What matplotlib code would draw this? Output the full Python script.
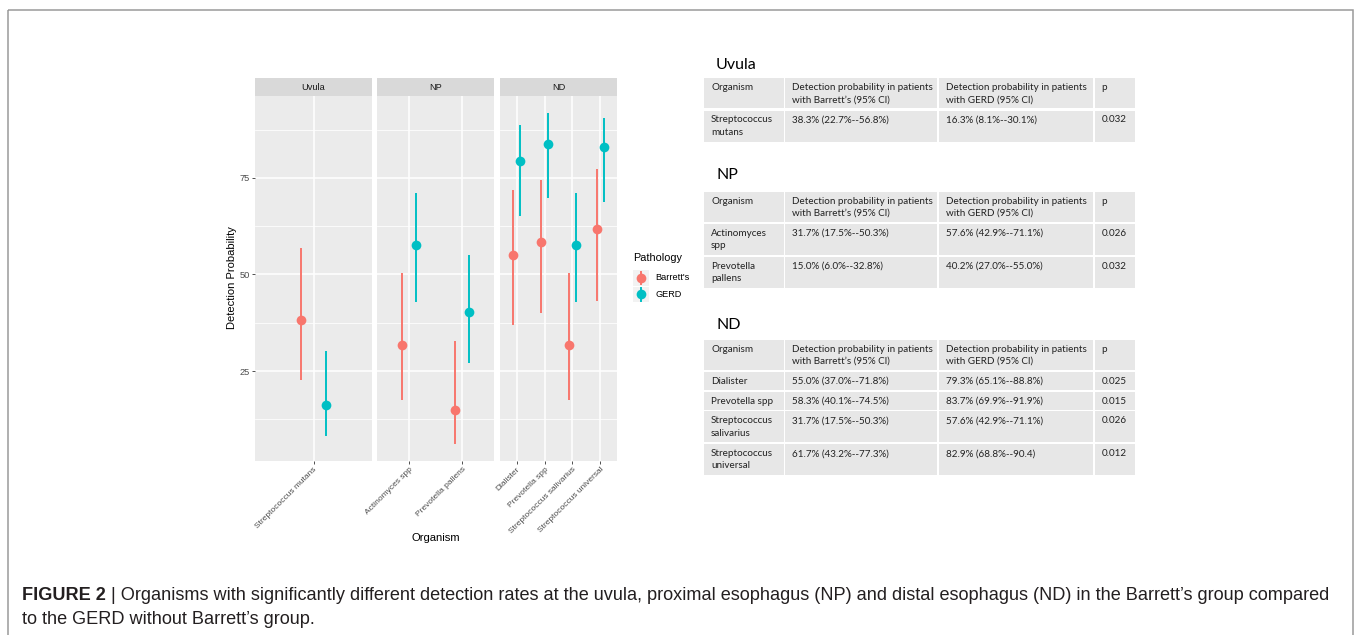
import matplotlib
matplotlib.use('Agg')
import matplotlib.pyplot as plt
from matplotlib.patches import Rectangle

W, H = 1356, 635

# data (tables give the exact values)
sites = ['Uvula', 'NP', 'ND']
organisms = ['Streptococcus mutans', 'Actinomyces spp', 'Prevotella pallens',
             'Dialister', 'Prevotella spp', 'Streptococcus salivarius',
             'Streptococcus universal']
organism_site = ['Uvula', 'NP', 'NP', 'ND', 'ND', 'ND', 'ND']
table_names = ['Streptococcus\nmutans', 'Actinomyces\nspp', 'Prevotella\npallens',
               'Dialister', 'Prevotella spp', 'Streptococcus\nsalivarius',
               'Streptococcus\nuniversal']

barrett_est = [38.3, 31.7, 15.0, 55.0, 58.3, 31.7, 61.7]
barrett_lo = [22.7, 17.5, 6.0, 37.0, 40.1, 17.5, 43.2]
barrett_hi = [56.8, 50.3, 32.8, 71.8, 74.5, 50.3, 77.3]
gerd_est = [16.3, 57.6, 40.2, 79.3, 83.7, 57.6, 82.9]
gerd_lo = [8.1, 42.9, 27.0, 65.1, 69.9, 42.9, 68.8]
gerd_hi = [30.1, 71.1, 55.0, 88.8, 91.9, 71.1, 90.4]
p_values = ['0.032', '0.026', '0.032', '0.025', '0.015', '0.026', '0.012']

pathologies = ["Barrett's", 'GERD']
colors = ['#F8766D', '#00BFC4']

AX_FONT = ['Liberation Sans', 'DejaVu Sans']
TAB_FONT = ['Lato', 'DejaVu Sans']
CAP_FONT = ['Liberation Sans', 'DejaVu Sans']


def px_box(x0, y0, x1, y1):
    return [x0 / W, 1 - y1 / H, (x1 - x0) / W, (y1 - y0) / H]


def ci_text(est, lo, hi):
    return f'{est:.1f}% ({lo:.1f}%--{hi:.1f}%)'


fig = plt.figure(figsize=(W / 100, H / 100), dpi=100)
fig.patch.set_facecolor('white')

# overlay canvas in pixel coordinates for frame, legend, tables, caption
cv = fig.add_axes([0, 0, 1, 1])
cv.set_xlim(0, W)
cv.set_ylim(H, 0)
cv.axis('off')

cv.add_patch(Rectangle((8, 10), 1345, 640, fill=False, ec='#9A9A9A', lw=1.1))

# ---- faceted plot ----
panel_x = [(255, 372), (377, 494), (500, 617)]
strip_top, panel_top, panel_bottom = 78, 96, 461

all_lo = min(barrett_lo + gerd_lo)
all_hi = max(barrett_hi + gerd_hi)
pad = 0.05 * (all_hi - all_lo)
dodge = 0.125
pt_size = 7.0

for i, site in enumerate(sites):
    idx = [k for k, s in enumerate(organism_site) if s == site]
    x0, x1 = panel_x[i]
    ax = fig.add_axes(px_box(x0, panel_top, x1, panel_bottom))
    ax.set_facecolor('#EBEBEB')
    for sp in ax.spines.values():
        sp.set_visible(False)
    ax.set_ylim(all_lo - pad, all_hi + pad)
    ax.set_xlim(-0.6, len(idx) - 0.4)
    ax.set_yticks([25, 50, 75])
    ax.set_yticks([12.5, 37.5, 62.5, 87.5], minor=True)
    ax.set_xticks(range(len(idx)))
    ax.set_xticklabels([organisms[k] for k in idx], rotation=45, ha='right',
                       va='top', rotation_mode='anchor', fontsize=6,
                       color='#4D4D4D', family=AX_FONT)
    ax.set_axisbelow(True)
    ax.grid(which='major', color='white', lw=1.1)
    ax.grid(which='minor', axis='y', color='white', lw=0.55)
    ax.tick_params(which='minor', length=0)
    ax.tick_params(which='major', length=2.2, width=0.6, color='#333333', pad=1.5)
    if i == 0:
        for lab in ax.get_yticklabels():
            lab.set_fontsize(6.7)
            lab.set_color('#4D4D4D')
            lab.set_family(AX_FONT)
    else:
        ax.tick_params(axis='y', which='both', left=False, labelleft=False)

    for j, k in enumerate(idx):
        series = [(barrett_est[k], barrett_lo[k], barrett_hi[k]),
                  (gerd_est[k], gerd_lo[k], gerd_hi[k])]
        for (est, lo, hi), col, off in zip(series, colors, (-dodge, dodge)):
            ax.vlines(j + off, lo, hi, color=col, lw=1.4)
            ax.plot(j + off, est, 'o', color=col, ms=pt_size, mec='none')

    strip = fig.add_axes(px_box(x0, strip_top, x1, panel_top))
    strip.set_facecolor('#D9D9D9')
    strip.set_xticks([])
    strip.set_yticks([])
    for sp in strip.spines.values():
        sp.set_visible(False)
    strip.text(0.5, 0.5, site, ha='center', va='center', fontsize=6.7,
               color='#1A1A1A', family=AX_FONT, transform=strip.transAxes)

cv.text(232, 278, 'Detection Probability', rotation=90, ha='center', va='center',
        fontsize=8, family=AX_FONT)
cv.text(436, 538, 'Organism', ha='center', va='center', fontsize=8.1, family=AX_FONT)

# legend
cv.text(633, 258, 'Pathology', ha='left', va='center', fontsize=7.8, family=AX_FONT)
for n, (name, col) in enumerate(zip(pathologies, colors)):
    ky = 270 + n * 16.5
    cv.add_patch(Rectangle((633, ky), 16, 15.5, fc='#F2F2F2', ec='none'))
    cv.plot([641, 641], [ky + 1.5, ky + 14], color=col, lw=1.4)
    cv.plot(641, ky + 7.75, 'o', color=col, ms=pt_size, mec='none')
    cv.text(655, ky + 7.75, name, ha='left', va='center', fontsize=6.6, family=AX_FONT)

# ---- tables ----
col_edges = [(704, 783.5), (785, 937), (938.5, 1093), (1094.5, 1135)]
header = ['Organism', 'Detection probability in patients\nwith Barrett\u2019s (95% CI)',
          'Detection probability in patients\nwith GERD (95% CI)', 'p']
cell_bg = '#E7E7E7'

barrett_txt = [ci_text(e, l, h) for e, l, h in zip(barrett_est, barrett_lo, barrett_hi)]
gerd_txt = [ci_text(e, l, h) for e, l, h in zip(gerd_est, gerd_lo, gerd_hi)]
gerd_txt[-1] = gerd_txt[-1].replace('90.4%)', '90.4)')  # as printed in the source

table_pos = {'Uvula': (65, 78), 'NP': (175, 191.5), 'ND': (325, 339.5)}


def draw_row(y, h, cells):
    for (cx0, cx1), txt in zip(col_edges, cells):
        cv.add_patch(Rectangle((cx0, y), cx1 - cx0, h, fc=cell_bg, ec='none'))
        cv.text(cx0 + 7, y + 5, txt, ha='left', va='top', fontsize=7.1,
                family=TAB_FONT, color='#222222', linespacing=1.45)


for site in sites:
    title_y, y = table_pos[site]
    cv.text(716, title_y, site, ha='left', va='center', fontsize=11.5,
            family=TAB_FONT, color='black')
    draw_row(y, 30, header)
    y += 32.5
    for k, s in enumerate(organism_site):
        if s != site:
            continue
        h = 31 if '\n' in table_names[k] else 18
        draw_row(y, h, [table_names[k], barrett_txt[k], gerd_txt[k], p_values[k]])
        y += h + 1.7

# ---- caption ----
fig.canvas.draw()
rend = fig.canvas.get_renderer()
cap_size = 13.05
bold = cv.text(22, 596, 'FIGURE 2', ha='left', va='center', fontsize=cap_size,
               fontweight='bold', family=CAP_FONT, color='#231F20')
bb = bold.get_window_extent(renderer=rend)
cv.text(bb.x1, 596, ' | Organisms with significantly different detection rates at the uvula, '
        'proximal esophagus (NP) and distal esophagus (ND) in the Barrett\u2019s group compared',
        ha='left', va='center', fontsize=cap_size, family=CAP_FONT, color='#231F20')
cv.text(22, 620, 'to the GERD without Barrett\u2019s group.', ha='left', va='center',
        fontsize=cap_size, family=CAP_FONT, color='#231F20')

fig.savefig('out.png', dpi=100)
